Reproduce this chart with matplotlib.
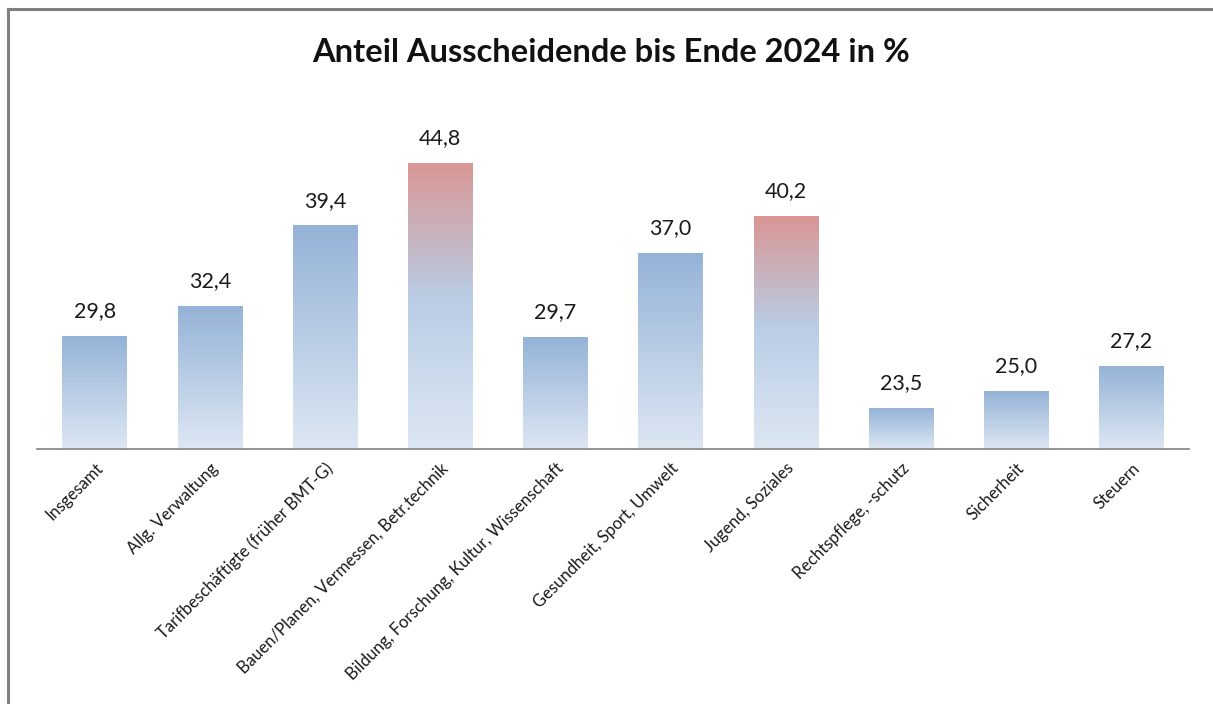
import numpy as np
import matplotlib
matplotlib.use("Agg")
import matplotlib.pyplot as plt
from matplotlib.colors import LinearSegmentedColormap
from matplotlib.lines import Line2D

plt.rcParams["font.family"] = ["Lato", "DejaVu Sans"]

categories = [
    "Insgesamt",
    "Allg. Verwaltung",
    "Tarifbeschäftigte (früher BMT-G)",
    "Bauen/Planen, Vermessen, Betr.technik",
    "Bildung, Forschung, Kultur, Wissenschaft",
    "Gesundheit, Sport, Umwelt",
    "Jugend, Soziales",
    "Rechtspflege, -schutz",
    "Sicherheit",
    "Steuern",
]
values = [29.8, 32.4, 39.4, 44.8, 29.7, 37.0, 40.2, 23.5, 25.0, 27.2]
highlight = [False, False, False, True, False, False, True, False, False, False]
title = "Anteil Ausscheidende bis Ende 2024 in %"

blue_cmap = LinearSegmentedColormap.from_list("blue", ["#dde7f3", "#95b3d7"])
red_cmap = LinearSegmentedColormap.from_list(
    "red", [(0.0, "#dde7f3"), (0.53, "#b9cde5"), (1.0, "#d99694")])

fig = plt.figure(figsize=(12.13, 7.04), dpi=100)
ax = fig.add_axes([0.0305, 0.3622, 0.9497, 0.49])

x = np.arange(len(categories))
bars = ax.bar(x, values, width=0.56, color="none", edgecolor="none")

grad = np.linspace(0, 1, 256).reshape(-1, 1)
for b, v, hl in zip(bars, values, highlight):
    x0 = b.get_x()
    w = b.get_width()
    ax.imshow(grad, cmap=red_cmap if hl else blue_cmap, origin="lower",
              extent=(x0, x0 + w, 20, v), aspect="auto", zorder=2,
              interpolation="nearest")
    ax.annotate(f"{v:.1f}".replace(".", ","), (x0 + w / 2, v),
                textcoords="offset points", xytext=(0, 11), ha="center",
                va="bottom", fontsize=15.5, color="#1a1a1a")

ax.set_xlim(-0.5, len(categories) - 0.5)
ax.set_ylim(20, 50)
ax.set_xticks(x)
ax.set_xticklabels(categories, rotation=45, ha="right", rotation_mode="anchor",
                   fontsize=12, color="#1a1a1a")
ax.tick_params(axis="x", length=0, pad=8)
ax.set_yticks([])
for s in ["top", "right", "left"]:
    ax.spines[s].set_visible(False)
ax.spines["bottom"].set_color("#8c8c8c")
ax.spines["bottom"].set_linewidth(1.3)
ax.spines["bottom"].set_zorder(4)

fig.text(0.504, 0.926, title, ha="center", va="center", fontsize=23.5,
         fontweight="bold", color="#111111")

# outer chart frame (left and top edges visible)
fig.add_artist(Line2D([0.0066, 0.0066], [0, 0.9875], color="#808080", lw=2.2,
                      transform=fig.transFigure))
fig.add_artist(Line2D([0.0066, 1.0], [0.9875, 0.9875], color="#808080", lw=2.2,
                      transform=fig.transFigure))

fig.savefig("out.png", dpi=100, facecolor="white")
